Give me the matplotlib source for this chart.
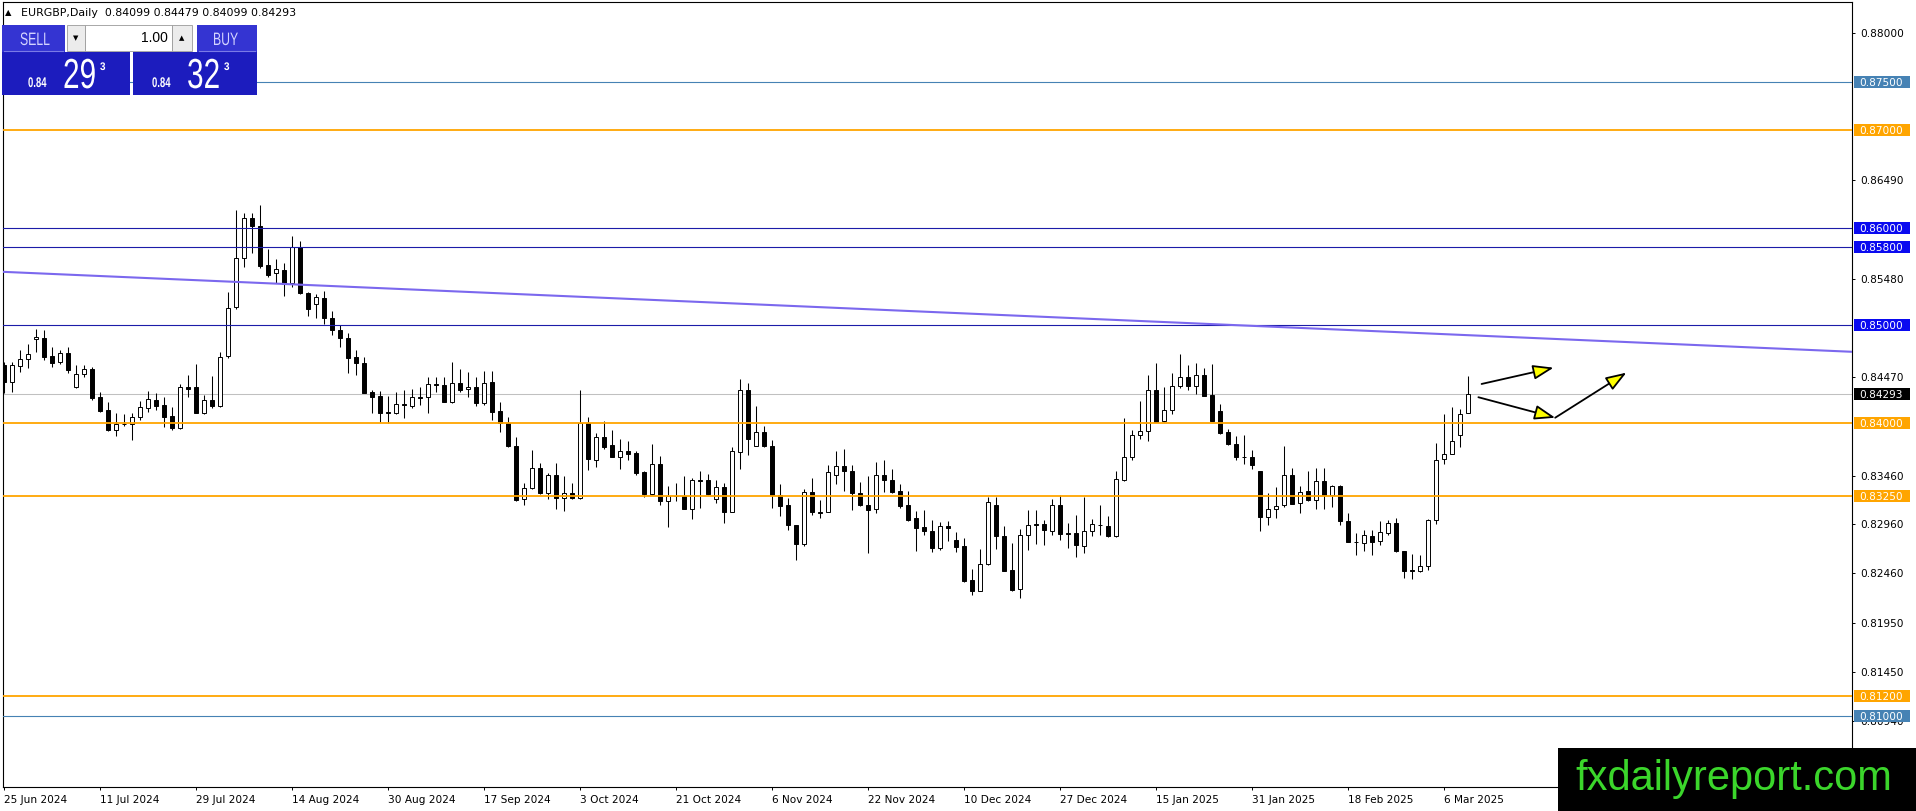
import numpy as np
import matplotlib.pyplot as plt
from matplotlib.patches import Rectangle, PathPatch
from matplotlib.textpath import TextPath
from matplotlib.font_manager import FontProperties
from matplotlib.transforms import Affine2D, blended_transform_factory

plt.rcParams['font.family'] = 'DejaVu Sans'

# ---------------- data (EURGBP daily) ----------------
opens = [
    0.84594, 0.84422, 0.84583, 0.84652, 0.84860, 0.84867, 0.84686, 0.84628, 0.84713, 0.84364,
    0.84498, 0.84552, 0.84262, 0.84132, 0.83933, 0.83990, 0.83985, 0.84063, 0.84149, 0.84240,
    0.84183, 0.84070, 0.83950, 0.84364, 0.84364, 0.84104, 0.84234, 0.84173, 0.84686, 0.85185,
    0.85688, 0.86098, 0.86023, 0.85617, 0.85534, 0.85568, 0.85431, 0.85801, 0.85329, 0.85219,
    0.85280, 0.85080, 0.84950, 0.84870, 0.84673, 0.84612, 0.84314, 0.84276, 0.84113, 0.84106,
    0.84194, 0.84177, 0.84270, 0.84270, 0.84400, 0.84389, 0.84218, 0.84406, 0.84345, 0.84365,
    0.84208, 0.84417, 0.84122, 0.84003, 0.83763, 0.83216, 0.83329, 0.83534, 0.83285, 0.83466,
    0.83227, 0.83285, 0.83227, 0.84003, 0.83620, 0.83856, 0.83770, 0.83652, 0.83710, 0.83687,
    0.83495, 0.83276, 0.83584, 0.83204, 0.83249, 0.83249, 0.83122, 0.83413, 0.83413, 0.83225,
    0.83341, 0.83088, 0.83704, 0.84343, 0.83759, 0.83910, 0.83769, 0.83259, 0.83157, 0.82958,
    0.82760, 0.83293, 0.83088, 0.83088, 0.83471, 0.83557, 0.83512, 0.83283, 0.83163, 0.83122,
    0.83471, 0.83420, 0.83300, 0.83157, 0.83027, 0.82931, 0.82896, 0.82719, 0.82941, 0.82804,
    0.82736, 0.82394, 0.82281, 0.82558, 0.83163, 0.82845, 0.82496, 0.82301, 0.82855, 0.82968,
    0.82968, 0.82896, 0.83163, 0.82869, 0.82869, 0.82736, 0.82896, 0.82958, 0.82948, 0.82845,
    0.83420, 0.83652, 0.83881, 0.83916, 0.84343, 0.84018, 0.84128, 0.84377, 0.84470, 0.84377,
    0.84489, 0.84284, 0.84126, 0.83904, 0.83788, 0.83654, 0.83654, 0.83511, 0.83039, 0.83121,
    0.83155, 0.83470, 0.83179, 0.83299, 0.83213, 0.83401, 0.83265, 0.83350, 0.82998, 0.82780,
    0.82769, 0.82844, 0.82786, 0.82871, 0.82974, 0.82683, 0.82488, 0.82485, 0.82536, 0.83008,
    0.83634, 0.83685, 0.83873, 0.84099,
]
highs = [
    0.84628, 0.84628, 0.84747, 0.84805, 0.84960, 0.84953, 0.84782, 0.84747, 0.84782, 0.84594,
    0.84594, 0.84576, 0.84320, 0.84217, 0.84104, 0.84091, 0.84104, 0.84228, 0.84323, 0.84303,
    0.84262, 0.84166, 0.84399, 0.84491, 0.84604, 0.84286, 0.84481, 0.84723, 0.85346, 0.86184,
    0.86150, 0.86150, 0.86235, 0.85780, 0.85678, 0.85637, 0.85917, 0.85869, 0.85340, 0.85322,
    0.85350, 0.85150, 0.85000, 0.84920, 0.84748, 0.84673, 0.84338, 0.84331, 0.84276, 0.84314,
    0.84338, 0.84345, 0.84372, 0.84468, 0.84468, 0.84475, 0.84622, 0.84550, 0.84526, 0.84468,
    0.84530, 0.84536, 0.84218, 0.84058, 0.83859, 0.83387, 0.83722, 0.83592, 0.83483, 0.83592,
    0.83456, 0.83380, 0.84338, 0.84058, 0.83900, 0.84025, 0.83930, 0.83834, 0.83813, 0.83717,
    0.83512, 0.83786, 0.83659, 0.83352, 0.83386, 0.83454, 0.83437, 0.83505, 0.83481, 0.83420,
    0.83386, 0.83752, 0.84456, 0.84412, 0.84172, 0.83967, 0.83830, 0.83376, 0.83232, 0.82958,
    0.83328, 0.83437, 0.83215, 0.83574, 0.83717, 0.83738, 0.83567, 0.83393, 0.83454, 0.83601,
    0.83625, 0.83533, 0.83376, 0.83300, 0.83095, 0.83112, 0.83000, 0.82985, 0.82992, 0.82883,
    0.82821, 0.82503, 0.82712, 0.83238, 0.83238, 0.82941, 0.82770, 0.82917, 0.83112, 0.83112,
    0.83009, 0.83225, 0.83266, 0.82975, 0.83060, 0.83238, 0.83020, 0.83163, 0.83044, 0.83505,
    0.84046, 0.83933, 0.84223, 0.84490, 0.84610, 0.84367, 0.84514, 0.84712, 0.84599, 0.84617,
    0.84565, 0.84605, 0.84195, 0.83942, 0.83863, 0.83880, 0.83726, 0.83511, 0.83282, 0.83340,
    0.83761, 0.83538, 0.83350, 0.83511, 0.83538, 0.83538, 0.83367, 0.83367, 0.83077, 0.82871,
    0.82906, 0.82906, 0.82998, 0.83008, 0.83025, 0.82683, 0.82656, 0.82649, 0.83018, 0.83795,
    0.84092, 0.84161, 0.84147, 0.84479,
]
lows = [
    0.84303, 0.84320, 0.84525, 0.84559, 0.84730, 0.84645, 0.84576, 0.84600, 0.84508, 0.84354,
    0.84474, 0.84240, 0.84115, 0.83920, 0.83865, 0.83968, 0.83824, 0.84029, 0.84115, 0.84132,
    0.83961, 0.83933, 0.83940, 0.84269, 0.84098, 0.84091, 0.84149, 0.84159, 0.84662, 0.85170,
    0.85603, 0.85746, 0.85585, 0.85493, 0.85438, 0.85301, 0.85397, 0.85320, 0.85096, 0.85072,
    0.85020, 0.84900, 0.84783, 0.84516, 0.84492, 0.84304, 0.84099, 0.84013, 0.83996, 0.84092,
    0.84054, 0.84157, 0.84181, 0.84105, 0.84320, 0.84218, 0.84208, 0.84320, 0.84263, 0.84177,
    0.84181, 0.84030, 0.83910, 0.83757, 0.83203, 0.83158, 0.83319, 0.83271, 0.83216, 0.83114,
    0.83100, 0.83216, 0.83216, 0.83517, 0.83551, 0.83730, 0.83650, 0.83533, 0.83625, 0.83471,
    0.83239, 0.83266, 0.83163, 0.82934, 0.83198, 0.83122, 0.83016, 0.83129, 0.83259, 0.83180,
    0.82975, 0.83088, 0.83523, 0.83670, 0.83759, 0.83752, 0.83129, 0.83044, 0.82907, 0.82590,
    0.82736, 0.83061, 0.83027, 0.83088, 0.83375, 0.83300, 0.83112, 0.83146, 0.82668, 0.83078,
    0.83293, 0.83283, 0.83129, 0.82993, 0.82685, 0.82855, 0.82678, 0.82702, 0.82787, 0.82678,
    0.82370, 0.82240, 0.82274, 0.82541, 0.82712, 0.82479, 0.82281, 0.82206, 0.82702, 0.82760,
    0.82750, 0.82849, 0.82804, 0.82719, 0.82623, 0.82667, 0.82838, 0.82849, 0.82828, 0.82828,
    0.83410, 0.83625, 0.83840, 0.83820, 0.84011, 0.84011, 0.84093, 0.84360, 0.84343, 0.84299,
    0.84274, 0.84017, 0.83887, 0.83771, 0.83624, 0.83579, 0.83531, 0.82895, 0.82957, 0.83025,
    0.83135, 0.83169, 0.83076, 0.83203, 0.83121, 0.83121, 0.83138, 0.82957, 0.82780, 0.82642,
    0.82683, 0.82642, 0.82745, 0.82847, 0.82676, 0.82410, 0.82403, 0.82471, 0.82495, 0.82964,
    0.83579, 0.83682, 0.83750, 0.84099,
]
closes = [
    0.84422, 0.84594, 0.84652, 0.84706, 0.84881, 0.84679, 0.84617, 0.84720, 0.84542, 0.84501,
    0.84549, 0.84251, 0.84125, 0.83927, 0.83985, 0.83985, 0.84063, 0.84159, 0.84250, 0.84176,
    0.84063, 0.83944, 0.84364, 0.84344, 0.84104, 0.84234, 0.84176, 0.84679, 0.85175, 0.85688,
    0.86098, 0.86023, 0.85610, 0.85517, 0.85575, 0.85425, 0.85801, 0.85329, 0.85165, 0.85288,
    0.85080, 0.84950, 0.84870, 0.84663, 0.84612, 0.84311, 0.84270, 0.84099, 0.84106, 0.84190,
    0.84187, 0.84263, 0.84256, 0.84400, 0.84386, 0.84218, 0.84406, 0.84338, 0.84365, 0.84208,
    0.84413, 0.84116, 0.84003, 0.83763, 0.83209, 0.83329, 0.83534, 0.83278, 0.83466, 0.83227,
    0.83285, 0.83227, 0.84003, 0.83627, 0.83852, 0.83757, 0.83655, 0.83710, 0.83683, 0.83488,
    0.83273, 0.83584, 0.83204, 0.83249, 0.83252, 0.83122, 0.83413, 0.83410, 0.83273, 0.83341,
    0.83088, 0.83711, 0.84343, 0.83837, 0.83910, 0.83762, 0.83259, 0.83146, 0.82951, 0.82760,
    0.83293, 0.83088, 0.83074, 0.83499, 0.83557, 0.83512, 0.83283, 0.83157, 0.83112, 0.83471,
    0.83420, 0.83293, 0.83146, 0.83003, 0.82924, 0.82896, 0.82719, 0.82941, 0.82924, 0.82729,
    0.82383, 0.82281, 0.82558, 0.83191, 0.82845, 0.82486, 0.82291, 0.82855, 0.82958, 0.82955,
    0.82907, 0.83163, 0.82862, 0.82865, 0.82746, 0.82896, 0.82965, 0.82951, 0.82845, 0.83430,
    0.83652, 0.83881, 0.83916, 0.84343, 0.84011, 0.84138, 0.84377, 0.84470, 0.84377, 0.84490,
    0.84274, 0.84024, 0.83897, 0.83784, 0.83648, 0.83651, 0.83566, 0.83032, 0.83121, 0.83152,
    0.83470, 0.83169, 0.83292, 0.83213, 0.83401, 0.83265, 0.83350, 0.82998, 0.82780, 0.82776,
    0.82855, 0.82780, 0.82882, 0.82974, 0.82683, 0.82485, 0.82481, 0.82536, 0.83008, 0.83624,
    0.83685, 0.83812, 0.84092, 0.84293,
]

date_labels = ['25 Jun 2024', '11 Jul 2024', '29 Jul 2024', '14 Aug 2024', '30 Aug 2024',
               '17 Sep 2024', '3 Oct 2024', '21 Oct 2024', '6 Nov 2024', '22 Nov 2024',
               '10 Dec 2024', '27 Dec 2024', '15 Jan 2025', '31 Jan 2025', '18 Feb 2025',
               '6 Mar 2025']
bars_per_label = 12

levels = [0.87500, 0.87000, 0.86000, 0.85800, 0.85000, 0.84000, 0.83250, 0.81200, 0.81000]
level_kind = ['steel', 'orange', 'blue', 'blue', 'blue', 'orange', 'orange', 'orange', 'steel']
price_ticks = [0.88000, 0.86490, 0.85480, 0.84470, 0.83460, 0.82960, 0.82460, 0.81950, 0.81450, 0.80940]
last_price = 0.84293

# trend line: price at the left and right edge of the chart
trend_prices = [0.8555, 0.8473]

# hand drawn arrows (bar index, price)
arrow_from = [(184.7, 0.84400), (184.3, 0.84264), (193.9, 0.84054)]
arrow_to = [(193.7, 0.84567), (193.9, 0.84054), (202.8, 0.84516)]

header = 'EURGBP,Daily  0.84099 0.84479 0.84099 0.84293'
lot_size = '1.00'
sell_quote = ('0.84', '29', '3')
buy_quote = ('0.84', '32', '3')
watermark = 'fxdailyreport.com'

# ---------------- figure / axes ----------------
W, H = 1916, 811
ax_l, ax_r, ax_t, ax_b = 3, 1852, 2, 787
y_min, y_max = 0.80267, 0.88317

fig = plt.figure(figsize=(W / 100, H / 100), dpi=100)
fig.patch.set_facecolor('white')
ax = fig.add_axes([ax_l / W, (H - ax_b) / H, (ax_r - ax_l) / W, (ax_b - ax_t) / H])
ax.set_facecolor('white')

o = np.array(opens)
h = np.array(highs)
l = np.array(lows)
c = np.array(closes)
x = np.arange(len(o))

ax.set_xlim(-0.125, 231)
ax.set_ylim(y_min, y_max)

# bid line
ax.axhline(last_price, color='#c0c0c0', lw=0.75, zorder=1)

# candles
up = c >= o
ax.vlines(x, l, h, color='black', lw=0.75, zorder=3)
body_lo = np.minimum(o, c)
body_h = np.maximum(np.abs(c - o), 0.00004)
ax.bar(x, body_h, bottom=body_lo, width=0.62,
       color=np.where(up, 'white', 'black'), edgecolor='black', linewidth=0.7, zorder=4)

# horizontal levels
line_col = {'steel': '#4682b4', 'orange': '#ffa500', 'blue': '#1c1ca8'}
line_w = {'steel': 0.8, 'orange': 1.3, 'blue': 0.8}
box_col = {'steel': '#4682b4', 'orange': '#ffa500', 'blue': '#0a0af0'}
for lev, kind in zip(levels, level_kind):
    ax.axhline(lev, color=line_col[kind], lw=line_w[kind], zorder=5)

# trend line
ax.plot([-0.125, 231], trend_prices, color='#7b68ee', lw=1.5, zorder=6, solid_capstyle='butt')

# arrows
for (x0, y0), (x1, y1) in zip(arrow_from, arrow_to):
    ax.annotate('', xy=(x1, y1), xytext=(x0, y0),
                arrowprops=dict(arrowstyle='-|>,head_length=0.9,head_width=0.32',
                                mutation_scale=14, fc='#ffff00', ec='black', lw=1.3,
                                shrinkA=0, shrinkB=0), zorder=7)

# axes styling
for sp in ax.spines.values():
    sp.set_color('black')
    sp.set_linewidth(0.8)
ax.yaxis.tick_right()
ax.set_yticks(price_ticks)
ax.set_yticklabels([f'{p:.5f}' for p in price_ticks])
ax.tick_params(axis='y', length=2.5, width=0.7, pad=3.5, labelsize=7.6, colors='black')
ax.set_xticks(np.arange(len(date_labels)) * bars_per_label, date_labels, ha='left')
ax.tick_params(axis='x', length=2.5, width=0.7, pad=3, labelsize=7.6, colors='black')

# price labels on the right scale
px_per_price = (ax_b - ax_t) / (y_max - y_min)
bt = blended_transform_factory(ax.transAxes, ax.transData)
bx = (1854 - ax_l) / (ax_r - ax_l)
bw = 56 / (ax_r - ax_l)
bh = 12 / px_per_price
tx = (1859 - ax_l) / (ax_r - ax_l)
tags = [(lev, box_col[k]) for lev, k in zip(levels, level_kind)] + [(last_price, 'black')]
for lev, col in tags:
    ax.add_patch(Rectangle((bx, lev - bh / 2), bw, bh, transform=bt, fc=col, ec='none',
                           clip_on=False, zorder=8))
    ax.text(tx, lev, f'{lev:.5f}', transform=bt, color='white', fontsize=7.6,
            va='center_baseline', ha='left', clip_on=False, zorder=9)

# ---------------- overlay in pixel units: trade panel, header, watermark ----------------
ov = fig.add_axes([0, 0, 1, 1], zorder=10)
ov.set_xlim(0, W)
ov.set_ylim(H, 0)
ov.axis('off')


def squeezed(s, x0, base, size, sx, weight='normal', color='white'):
    tp = TextPath((0, 0), s, size=size, prop=FontProperties(family='Liberation Sans', weight=weight))
    path = Affine2D().scale(sx, -1).translate(x0, base).transform_path(tp)
    ov.add_patch(PathPatch(path, fc=color, ec='none', lw=0))


ov.text(5, 13, '\u25b2', fontsize=6, va='center', ha='left', color='black')
ov.text(21, 13, header, fontsize=7.9, va='center', ha='left', color='black')

# header row
ov.add_patch(Rectangle((2, 25), 63, 27, fc='#3434d2', ec='none'))
ov.add_patch(Rectangle((197, 25), 60, 27, fc='#3434d2', ec='none'))
ov.add_patch(Rectangle((67, 25), 18, 26, fc='#ececec', ec='#9a9a9a', lw=0.6))
ov.add_patch(Rectangle((85, 25), 87, 26, fc='white', ec='#9a9a9a', lw=0.6))
ov.add_patch(Rectangle((172, 25), 20, 26, fc='#ececec', ec='#9a9a9a', lw=0.6))
ov.plot([4, 63], [51, 51], color='#7a7ae6', lw=0.8)
ov.plot([199, 255], [51, 51], color='#7a7ae6', lw=0.8)
squeezed('SELL', 20, 45, 18, 0.68, color='#d4d4ff')
squeezed('BUY', 213, 45, 18, 0.68, color='#d4d4ff')
ov.text(76, 38, '\u25bc', fontsize=5, ha='center', va='center', color='black')
ov.text(182, 38, '\u25b2', fontsize=5, ha='center', va='center', color='black')
ov.text(168, 38, lot_size, fontsize=10, ha='right', va='center', color='black',
        family='Liberation Sans')

# quote boxes
ov.add_patch(Rectangle((2, 52), 128, 43, fc='#1c1cbe', ec='none'))
ov.add_patch(Rectangle((133, 52), 124, 43, fc='#1c1cbe', ec='none'))
for (big, mid, small), x0 in [(sell_quote, 28), (buy_quote, 152)]:
    squeezed(big, x0, 87, 14, 0.68, weight='bold')
    squeezed(mid, x0 + 35, 88, 42, 0.71)
    squeezed(small, x0 + 72, 70, 11, 0.9, weight='bold')

# watermark
ov.add_patch(Rectangle((1558, 748), W - 1558, H - 748, fc='black', ec='none'))
ov.text(1575, 790, watermark, fontsize=30, color='#3bd62b', ha='left', va='baseline',
        family='Liberation Sans')

fig.savefig('out.png', dpi=100, facecolor='white')
